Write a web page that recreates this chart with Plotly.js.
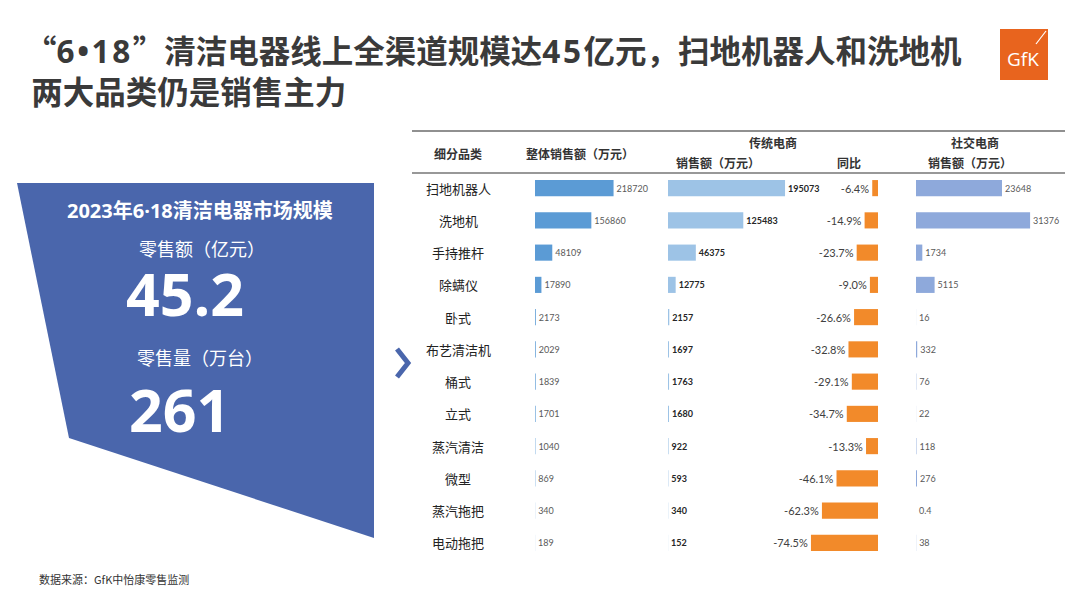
<!DOCTYPE html>
<html>
<head>
<meta charset="utf-8">
<script src="https://cdn.plot.ly/plotly-3.0.1.min.js"></script>
<style>
html,body{margin:0;padding:0;background:#fff;}
#chart{width:1080px;height:608px;}
</style>
</head>
<body>
<div id="chart"></div>
<script>
// ---- data ----
const categories = ['扫地机器人','洗地机','手持推杆','除螨仪','卧式','布艺清洁机','桶式','立式','蒸汽清洁','微型','蒸汽拖把','电动拖把'];
const totalSales = [218720,156860,48109,17890,2173,2029,1839,1701,1040,869,340,189];
const tradSales = [195073,125483,46375,12775,2157,1697,1763,1680,922,593,340,152];
const tradYoY = [-6.4,-14.9,-23.7,-9.0,-26.6,-32.8,-29.1,-34.7,-13.3,-46.1,-62.3,-74.5];
const socialSales = [23648,31376,1734,5115,16,332,76,22,118,276,0.4,38];

const NUMSPAN = s => '<span style="font-family:Open Sans;letter-spacing:2.6px">' + s + '</span>';
const titleLine1 = '“' + NUMSPAN('6•18') + '”清洁电器线上全渠道规模达' + NUMSPAN('45') + '亿元，扫地机器人和洗地机';
const titleLine2 = '\u2009两大品类仍是销售主力';
const panelTitle = '2023年6·18清洁电器市场规模';
const retailValueLabel = '零售额（亿元）';
const retailValue = '45.2';
const retailVolumeLabel = '零售量（万台）';
const retailVolume = '261';
const headers = {cat:'细分品类', total:'整体销售额（万元）', trad:'传统电商', tradSales:'销售额（万元）', yoy:'同比', social:'社交电商', socialSales:'销售额（万元）'};
const source = '数据来源：GfK中怡康零售监测';

// ---- geometry helpers (pixel -> paper) ----
const W = 1080, H = 608;
const px = x => x / W;
const py = y => 1 - y / H;
const CJK = '"Noto Sans CJK SC", "Noto Sans", sans-serif';
const MIX = '"Open Sans", "Noto Sans CJK SC", sans-serif';
const NUM = 'Lato, "Noto Sans", sans-serif';

function barTrace(vals, xaxis, color, textArr, tfont) {
  return {
    type: 'bar', orientation: 'h', y: categories, x: vals,
    xaxis: xaxis, yaxis: 'y',
    marker: {color: color},
    text: textArr, textposition: 'outside', cliponaxis: false,
    constraintext: 'none', textfont: tfont,
    hoverinfo: 'skip', showlegend: false
  };
}

const traces = [
  barTrace(totalSales, 'x', '#5B9BD5', totalSales.map(String), {family: NUM, size: 9, color: '#595959'}),
  barTrace(tradSales, 'x2', '#9DC3E6', tradSales.map(String), {family: NUM, size: 9, color: '#262626', weight: 700}),
  barTrace(tradYoY, 'x3', '#F28A2A', tradYoY.map(v => v.toFixed(1) + '%'), {family: NUM, size: 11, color: '#404040'}),
  barTrace(socialSales, 'x4', '#8EA9DB', socialSales.map(String), {family: NUM, size: 9, color: '#595959'})
];

const hiddenX = (d, r) => ({domain: [px(d[0]), px(d[1])], range: r, anchor: 'y', showgrid: false, zeroline: false, showticklabels: false, showline: false, fixedrange: true});

const shapes = [
  // left panel
  {type: 'path', xref: 'paper', yref: 'paper',
   path: `M ${px(17)},${py(183)} L ${px(374)},${py(183)} L ${px(374)},${py(538)} L ${px(69)},${py(438)} Z`,
   fillcolor: '#4A66AC', line: {width: 0}},
  // chevron
  {type: 'path', xref: 'paper', yref: 'paper',
   path: `M ${px(397)},${py(349)} L ${px(408)},${py(363)} L ${px(397)},${py(377)}`,
   line: {color: '#4A66AC', width: 5}},
  // table lines
  {type: 'line', xref: 'paper', yref: 'paper', x0: px(412), x1: px(1065), y0: py(131), y1: py(131), line: {color: '#6b6b6b', width: 1.5}},
  {type: 'line', xref: 'paper', yref: 'paper', x0: px(412), x1: px(1065), y0: py(173), y1: py(173), line: {color: '#333333', width: 1.2}},
  // logo
  {type: 'rect', xref: 'paper', yref: 'paper', x0: px(1000), x1: px(1048), y0: py(80), y1: py(29), fillcolor: '#E8641E', line: {width: 0}},
  {type: 'line', xref: 'paper', yref: 'paper', x0: px(1036), x1: px(1046), y0: py(44), y1: py(31), line: {color: '#ffffff', width: 1.2}}
];

const ann = (text, x, y, opts) => Object.assign({
  text: text, xref: 'paper', yref: 'paper', x: px(x), y: py(y),
  xanchor: 'center', yanchor: 'middle', showarrow: false
}, opts || {});

const annotations = [
  ann('<b>' + titleLine1 + '<br>' + titleLine2 + '</b>', 23, 69.5, {xanchor: 'left', align: 'left', font: {family: CJK, size: 31.5, color: '#3a3a3a'}}),
  ann('GfK', 1023, 59, {font: {family: '"Open Sans", sans-serif', size: 19, color: '#ffffff'}}),
  ann('<b>' + panelTitle + '</b>', 200, 210, {font: {family: MIX, size: 20, color: '#ffffff'}}),
  ann(retailValueLabel, 202, 248, {font: {family: CJK, size: 18, color: '#ffffff'}}),
  ann('<b>' + retailValue + '</b>', 185, 293, {font: {family: '"Open Sans", sans-serif', size: 59, color: '#ffffff'}}),
  ann(retailVolumeLabel, 200, 357, {font: {family: CJK, size: 18, color: '#ffffff'}}),
  ann('<b>' + retailVolume + '</b>', 179, 409, {font: {family: '"Open Sans", sans-serif', size: 59, color: '#ffffff'}}),
  ann('<b>' + headers.cat + '</b>', 458, 153, {font: {family: CJK, size: 12, color: '#333333'}}),
  ann('<b>' + headers.total + '</b>', 580, 153, {font: {family: CJK, size: 12, color: '#333333'}}),
  ann('<b>' + headers.trad + '</b>', 773, 142, {font: {family: CJK, size: 12, color: '#333333'}}),
  ann('<b>' + headers.tradSales + '</b>', 718, 162, {font: {family: CJK, size: 12, color: '#333333'}}),
  ann('<b>' + headers.yoy + '</b>', 849, 162, {font: {family: CJK, size: 12, color: '#333333'}}),
  ann('<b>' + headers.social + '</b>', 975, 142, {font: {family: CJK, size: 12, color: '#333333'}}),
  ann('<b>' + headers.socialSales + '</b>', 970, 162, {font: {family: CJK, size: 12, color: '#333333'}}),
  ann(source, 37, 579, {xanchor: 'left', font: {family: CJK, size: 11, color: '#333333'}})
];
categories.forEach(c => annotations.push({
  text: c, xref: 'paper', yref: 'y', x: px(458), y: c,
  xanchor: 'center', yanchor: 'middle', showarrow: false,
  font: {family: CJK, size: 13, color: '#222222'}
}));

const layout = {
  width: W, height: H,
  margin: {l: 0, r: 0, t: 0, b: 0, pad: 0},
  paper_bgcolor: '#ffffff', plot_bgcolor: 'rgba(0,0,0,0)',
  barmode: 'overlay', bargap: 0.5,
  showlegend: false,
  xaxis: hiddenX([535, 660], [0, 348000]),
  xaxis2: hiddenX([668, 800], [0, 220000]),
  xaxis3: hiddenX([770, 878], [-120, 0]),
  xaxis4: hiddenX([916, 1060], [0, 39600]),
  yaxis: {domain: [py(559), py(172)], type: 'category', categoryorder: 'array', categoryarray: categories,
          autorange: 'reversed', showgrid: false, zeroline: false, showticklabels: false, showline: false, fixedrange: true},
  shapes: shapes,
  annotations: annotations
};

Plotly.newPlot('chart', traces, layout, {displayModeBar: false, staticPlot: true});
</script>
</body>
</html>
